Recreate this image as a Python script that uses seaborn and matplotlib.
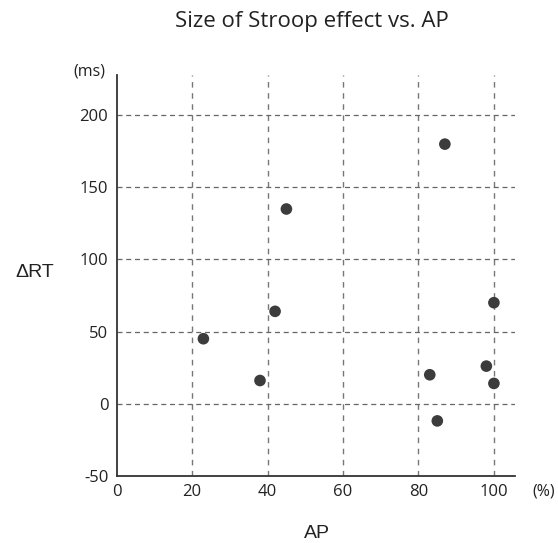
import matplotlib
matplotlib.use("Agg")
import matplotlib.pyplot as plt
import seaborn as sns
import pandas as pd

# values
ap = [23, 38, 42, 45, 83, 85, 87, 98, 100, 100]
delta_rt = [45, 16, 64, 135, 20, -12, 180, 26, 70, 14]
x_ticks = [0, 20, 40, 60, 80, 100]
y_ticks = [-50, 0, 50, 100, 150, 200]

df = pd.DataFrame({"AP": ap, "dRT": delta_rt})

sns.set_theme(style="white")
plt.rcParams['font.family'] = ['Open Sans', 'DejaVu Sans']
plt.rcParams['axes.unicode_minus'] = False

fig = plt.figure(figsize=(5.58, 5.43), dpi=100)
ax = fig.add_axes([0.209, 0.124, 0.714, 0.738])

sns.scatterplot(data=df, x="AP", y="dRT", ax=ax, s=70, color="#3c3c3c",
                edgecolor="none", zorder=3)

ax.set_xlim(0, 105.6)
ax.set_ylim(-50, 228)
ax.set_xticks(x_ticks)
ax.set_yticks(y_ticks)
ax.tick_params(axis='both', length=0, labelsize=12, colors="#222222")
ax.tick_params(axis='x', pad=6)
ax.tick_params(axis='y', pad=6)

for v in x_ticks[1:]:
    ax.axvline(v, color="#777777", linestyle=(0, (4, 4)), linewidth=1, zorder=1)
for v in y_ticks[1:]:
    ax.axhline(v, color="#666666", linestyle=(0, (4, 3)), linewidth=0.9, zorder=1)

sns.despine(ax=ax)
for s in ["left", "bottom"]:
    ax.spines[s].set_color("#333333")
    ax.spines[s].set_linewidth(1.3)

ax.set_xlabel("")
ax.set_ylabel("")
fig.text(312 / 558, 1 - 22 / 543, "Size of Stroop effect vs. AP", ha="center",
         va="center", fontsize=16, color="#222222")
fig.text(317 / 558, 1 - 533 / 543, "AP", ha="center", va="center",
         fontsize=14, color="#222222", family="Liberation Sans")
fig.text(35 / 558, 1 - 272 / 543, "ΔRT", ha="center", va="center",
         fontsize=14, color="#222222", family="Liberation Sans")
fig.text(89 / 558, 1 - 71 / 543, "(ms)", ha="center", va="center",
         fontsize=11.5, color="#222222")
fig.text(544 / 558, 1 - 492 / 543, "(%)", ha="center", va="center",
         fontsize=11.5, color="#222222")

fig.savefig("out.png", dpi=100)
